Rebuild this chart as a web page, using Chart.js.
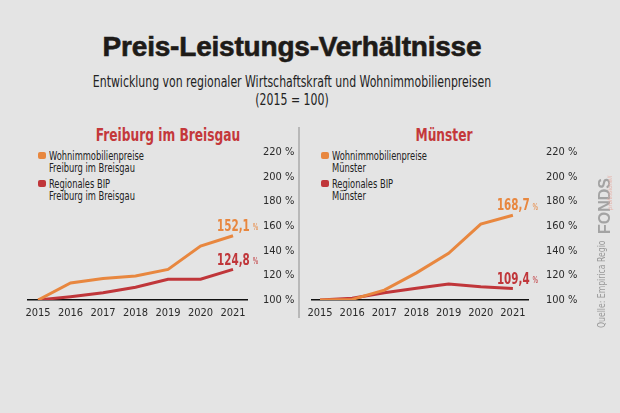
<!DOCTYPE html>
<html>
<head>
<meta charset="utf-8">
<script src="https://cdn.jsdelivr.net/npm/chart.js@4/dist/chart.umd.min.js"></script>
<style>
  body { margin: 0; background: #e4e4e4; }
  #wrap { position: relative; width: 620px; height: 413px; background: #e4e4e4; overflow: hidden;
    font-family: 'DejaVu Sans Condensed', sans-serif; color: #222; }
  .abs { position: absolute; white-space: nowrap; }
  #title { left: 0; width: 584px; top: 31px; text-align: center; font-family: 'Liberation Sans', Arial, sans-serif;
    font-weight: bold; font-size: 28px; color: #1e1b18; letter-spacing: -0.2px; -webkit-text-stroke: 0.6px #1e1b18; }
  .sub { left: 0; width: 584px; text-align: center; font-size: 15px; color: #222; transform: scaleX(0.81); transform-origin: 292px 0; }
  .ptitle { text-align: center; font-weight: bold; font-size: 17px; color: #c4383b; transform: scaleX(0.8); }
  .leg { font-size: 12.5px; line-height: 12px; color: #222; transform: scaleX(0.74); transform-origin: left top; }
  .mk { position: absolute; width: 8px; height: 7px; border-radius: 2px; }
  #divider { left: 298px; top: 127px; width: 2px; height: 191px; background: #b8b8b8; }
  canvas { position: absolute; top: 0; }
  .side { transform-origin: left top; transform: rotate(-90deg); color: #9a9a9a; }
</style>
</head>
<body>
<div id="wrap">
  <div id="title" class="abs">Preis-Leistungs-Verhältnisse</div>
  <div class="abs sub" style="top:73px">Entwicklung von regionaler Wirtschaftskraft und Wohnimmobilienpreisen</div>
  <div class="abs sub" style="top:91px">(2015 = 100)</div>

  <div class="abs ptitle" style="left:68px;width:200px;top:125px">Freiburg im Breisgau</div>
  <div class="abs ptitle" style="left:344px;width:200px;top:125px">Münster</div>

  <div class="mk" style="left:38px;top:152px;background:#e8873f"></div>
  <div class="abs leg" style="left:49px;top:150px">Wohnimmobilienpreise<br>Freiburg im Breisgau</div>
  <div class="mk" style="left:38px;top:180px;background:#c0363a"></div>
  <div class="abs leg" style="left:49px;top:178px">Regionales BIP<br>Freiburg im Breisgau</div>

  <div class="mk" style="left:321px;top:152px;background:#e8873f"></div>
  <div class="abs leg" style="left:332px;top:150px">Wohnimmobilienpreise<br>Münster</div>
  <div class="mk" style="left:321px;top:180px;background:#c0363a"></div>
  <div class="abs leg" style="left:332px;top:178px">Regionales BIP<br>Münster</div>

  <div id="divider" class="abs"></div>

  <canvas id="left" width="300" height="413" style="left:0"></canvas>
  <canvas id="right" width="320" height="413" style="left:300px"></canvas>

  <div class="abs side" style="left:596px;top:234px;font-family:'Liberation Sans',Arial,sans-serif;font-weight:bold;font-size:16px;color:#a3a3a3">FONDS</div>
  <div class="abs side" style="left:606px;top:210px;font-size:6px;font-style:italic;color:#e6b3ab">professionell</div>
  <div class="abs side" style="left:595px;top:328px;font-size:11px;transform:rotate(-90deg) scaleX(0.78)">Quelle: Empirica Regio</div>
</div>

<script>
const years = [2015, 2016, 2017, 2018, 2019, 2020, 2021];
const yTicks = [100, 120, 140, 160, 180, 200, 220];

const freiburgPreise = [100, 113.8, 117.5, 119.4, 124.8, 143.7, 152.1];
const freiburgBip = [100, 102.7, 105.9, 110.3, 116.8, 116.8, 124.8];
const muensterPreise = [100, 100.5, 108, 122, 137.8, 161.5, 168.7];
const muensterBip = [100, 101.5, 105.9, 109.5, 113, 110.8, 109.4];

const ORANGE = '#e8873f';
const RED = '#c0363a';
const FONT = "'DejaVu Sans Condensed', sans-serif";

const pts = (vals) => years.map((y, i) => ({ x: y, y: vals[i] }));

// Endwerte (z.B. "152,1 %") neben dem letzten Punkt
const endLabels = {
  id: 'endLabels',
  afterDatasetsDraw(chart) {
    const ctx = chart.ctx;
    chart.data.datasets.forEach((ds, i) => {
      const meta = chart.getDatasetMeta(i);
      const p = meta.data[meta.data.length - 1];
      const val = ds.data[ds.data.length - 1].y;
      const txt = val.toFixed(1).replace('.', ',');
      ctx.save();
      ctx.fillStyle = ds.borderColor;
      ctx.textBaseline = 'middle';
      ctx.textAlign = 'left';
      ctx.translate(p.x - 16, p.y - 9);
      ctx.scale(0.72, 1);
      ctx.font = 'bold 16px ' + FONT;
      ctx.fillText(txt, 0, 0);
      const w = ctx.measureText(txt).width;
      ctx.font = '9px ' + FONT;
      ctx.fillText('%', w + 4, 1);
      ctx.restore();
    });
  },
};

function makeChart(id, preise, bip, pad, xmin, xmax, tickPad) {
  return new Chart(document.getElementById(id), {
    type: 'line',
    data: {
      datasets: [
        { data: pts(preise), borderColor: ORANGE, borderWidth: 3, pointRadius: 0, tension: 0 },
        { data: pts(bip), borderColor: RED, borderWidth: 3, pointRadius: 0, tension: 0 },
      ],
    },
    options: {
      responsive: false,
      animation: false,
      layout: { padding: pad },
      plugins: { legend: { display: false }, tooltip: { enabled: false } },
      scales: {
        x: {
          type: 'linear',
          min: xmin,
          max: xmax,
          grid: { display: false, drawTicks: false },
          border: { color: '#111', width: 1.5 },
          afterBuildTicks: (s) => { s.ticks = years.map((v) => ({ value: v })); },
          afterFit: (s) => { s.height = 25; },
          ticks: { callback: (v) => String(v), color: '#2a2a2a', font: { family: FONT, size: 11 }, padding: 7, maxRotation: 0 },
        },
        y: {
          position: 'right',
          min: 100,
          max: 220,
          grid: { display: false, drawTicks: false },
          border: { display: false },
          afterBuildTicks: (s) => { s.ticks = yTicks.map((v) => ({ value: v })); },
          afterFit: (s) => { s.width = 50; },
          ticks: { callback: (v) => v + ' %', color: '#2a2a2a', font: { family: FONT, size: 11 }, padding: tickPad },
        },
      },
    },
    plugins: [endLabels],
  });
}

makeChart('left', freiburgPreise, freiburgBip, { left: 28, top: 152, right: 3, bottom: 88 }, 2014.69, 2021.43, 16);
makeChart('right', muensterPreise, muensterBip, { left: 12, top: 152, right: 42, bottom: 88 }, 2014.75, 2021.47, 18);
</script>
</body>
</html>
